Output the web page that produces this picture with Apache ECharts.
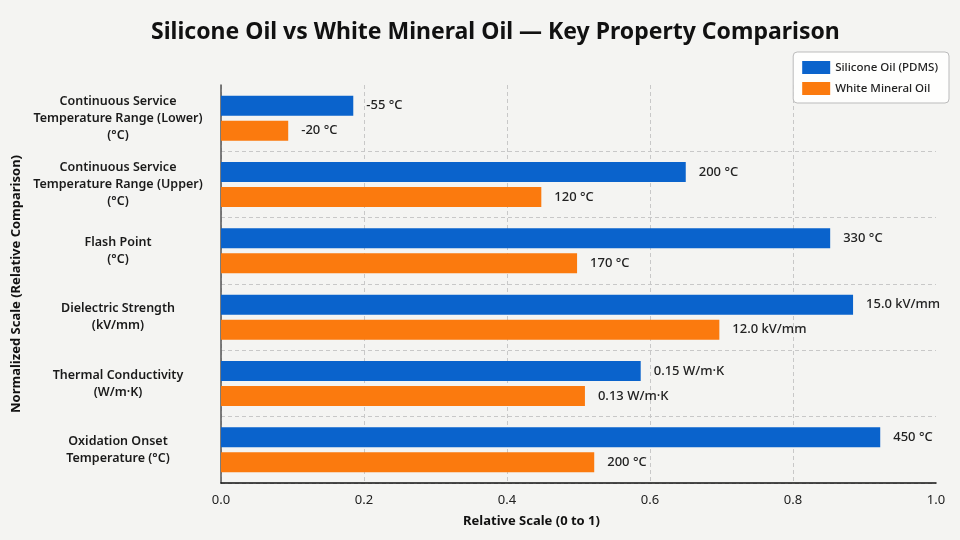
<!DOCTYPE html>
<html lang="en">
<head>
    <meta charset="UTF-8">
    <title>Silicone Oil vs White Mineral Oil</title>
    <style>
        html, body {
            margin: 0;
            padding: 0;
            background: #f4f4f2;
        }
        #main {
            width: 960px;
            height: 540px;
        }
    </style>
    <script type="text/javascript" src="https://cdn.jsdelivr.net/npm/echarts@6/dist/echarts.min.js"></script>
</head>
<body>
<div id="main"></div>
<script type="text/javascript">
    var properties = [
        'Continuous Service\nTemperature Range (Lower)\n(°C)',
        'Continuous Service\nTemperature Range (Upper)\n(°C)',
        'Flash Point\n(°C)',
        'Dielectric Strength\n(kV/mm)',
        'Thermal Conductivity\n(W/m·K)',
        'Oxidation Onset\nTemperature (°C)'
    ];
    var siliconeValues = [0.185, 0.65, 0.852, 0.884, 0.587, 0.922];
    var mineralValues = [0.094, 0.448, 0.498, 0.697, 0.509, 0.522];
    var siliconeLabels = ['-55 °C', '200 °C', '330 °C', '15.0 kV/mm', '0.15 W/m·K', '450 °C'];
    var mineralLabels = ['-20 °C', '120 °C', '170 °C', '12.0 kV/mm', '0.13 W/m·K', '200 °C'];

    var font = 'Noto Sans';
    var chart = echarts.init(document.getElementById('main'));

    function valueLabel(texts) {
        return {
            show: true,
            position: 'right',
            distance: 13,
            fontFamily: font,
            fontSize: 13,
            fontWeight: 500,
            color: '#222',
            formatter: function (p) { return texts[p.dataIndex]; }
        };
    }

    var option = {
        backgroundColor: '#f4f4f2',
        animation: false,
        title: {
            text: 'Silicone Oil vs White Mineral Oil — Key Property Comparison',
            left: 146,
            top: 16,
            textStyle: {fontFamily: font, fontSize: 23, fontWeight: 'bold', color: '#111'}
        },
        legend: {
            orient: 'vertical',
            right: 11,
            top: 52,
            padding: [9, 11, 8, 9],
            itemWidth: 28,
            itemHeight: 13,
            itemGap: 8,
            backgroundColor: 'rgba(255,255,255,0.85)',
            borderColor: '#bbb',
            borderWidth: 1,
            borderRadius: 4,
            icon: 'rect',
            textStyle: {fontFamily: font, fontSize: 11.5, fontWeight: 500, color: '#222'},
            data: ['Silicone Oil (PDMS)', 'White Mineral Oil']
        },
        grid: {left: 221, right: 24, top: 85, bottom: 57},
        xAxis: {
            type: 'value',
            min: 0,
            max: 1,
            interval: 0.2,
            name: 'Relative Scale (0 to 1)',
            nameLocation: 'middle',
            nameGap: 32,
            nameTextStyle: {fontFamily: font, fontSize: 13, fontWeight: 'bold', color: '#111', padding: [0, 94, 0, 0]},
            axisLine: {show: true, lineStyle: {color: '#111', width: 1.5}},
            axisTick: {show: false},
            axisLabel: {
                fontFamily: font, fontSize: 13, color: '#222', margin: 11,
                formatter: function (v) { return v.toFixed(1); }
            },
            splitLine: {show: true, showMaxLine: false, lineStyle: {color: '#c8c8c8', type: [4, 3], width: 1}}
        },
        yAxis: {
            type: 'category',
            inverse: true,
            data: properties,
            name: 'Normalized Scale (Relative Comparison)',
            nameLocation: 'middle',
            nameGap: 198,
            nameTextStyle: {fontFamily: font, fontSize: 13, fontWeight: 'bold', color: '#111'},
            axisLine: {show: true, lineStyle: {color: '#555', width: 1.5}},
            axisTick: {show: false},
            axisLabel: {
                fontFamily: font, fontSize: 12.5, fontWeight: 600, color: '#1a1a1a',
                align: 'center', margin: 103, lineHeight: 17
            },
            splitLine: {show: true, showMinLine: false, lineStyle: {color: '#c8c8c8', type: [4, 3], width: 1}}
        },
        series: [{
            name: 'Silicone Oil (PDMS)',
            type: 'bar',
            data: siliconeValues,
            barWidth: 20,
            barGap: '25%',
            itemStyle: {color: '#0a63cc'},
            label: valueLabel(siliconeLabels)
        }, {
            name: 'White Mineral Oil',
            type: 'bar',
            data: mineralValues,
            barWidth: 20,
            barGap: '25%',
            itemStyle: {color: '#fb7a0e'},
            label: valueLabel(mineralLabels)
        }]
    };
    chart.setOption(option);
</script>
</body>
</html>
